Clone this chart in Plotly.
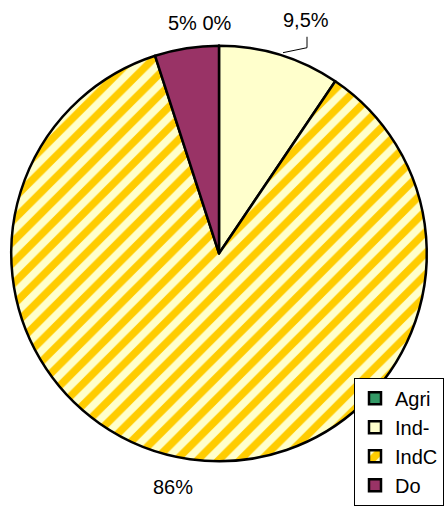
import plotly.graph_objects as go

labels = ["Agri", "Ind-", "IndC", "Do"]
values = [0.0, 9.5, 86.0, 5.0]
colors = ["#339966", "#FFFFCC", "#FFFFCC", "#993366"]
patterns = ["", "", "/", ""]

W, H = 444, 506
FONT = "Liberation Sans, Arial"

fig = go.Figure(go.Pie(
    labels=labels,
    values=values,
    sort=False,
    direction="clockwise",
    rotation=0,
    textinfo="none",
    hoverinfo="label+percent",
    marker=dict(
        colors=colors,
        line=dict(color="black", width=2.5),
        pattern=dict(
            shape=patterns,
            fgcolor="#FFCC00",
            bgcolor="#FFFFCC",
            size=15,
            solidity=0.5,
        ),
    ),
    domain=dict(x=[10 / W, 428 / W], y=[1 - 464 / H, 1 - 46 / H]),
))

annos = [
    ("5% 0%", 200, 23),
    ("9,5%", 306, 20),
    ("86%", 173, 490),
]
for t, x, y in annos:
    fig.add_annotation(text=t, x=x / W, y=1 - y / H, xref="paper", yref="paper",
                       xanchor="center", yanchor="middle",
                       showarrow=False, font=dict(size=20, color="black", family=FONT))

fig.add_shape(type="path", xref="paper", yref="paper",
              path=f"M {283/W} {1-53/H} L {307/W} {1-48/H} L {307/W} {1-37/H}",
              line=dict(color="black", width=1))

fig.update_layout(
    width=W, height=H,
    margin=dict(l=0, r=0, t=0, b=0),
    paper_bgcolor="white",
    plot_bgcolor="white",
    font=dict(family=FONT, size=20, color="black"),
    legend=dict(
        x=1.0, y=1 - 380 / H, xanchor="right", yanchor="top",
        bgcolor="white", bordercolor="black", borderwidth=1,
        font=dict(size=20), traceorder="normal",
    ),
    showlegend=True,
)

fig.write_html("out.html", config={"displayModeBar": False},
               post_script="document.body.style.margin='0';")
